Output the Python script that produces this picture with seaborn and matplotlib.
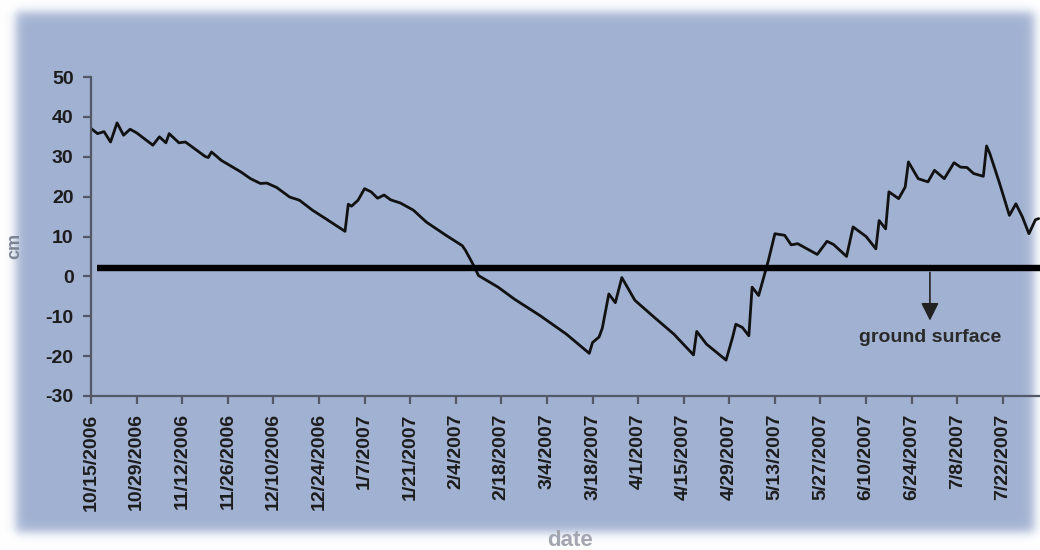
import numpy as np
import pandas as pd
import matplotlib
matplotlib.use("Agg")
import matplotlib.pyplot as plt
import seaborn as sns

# Water level relative to the reference datum (cm), by day since the start date
start_date = "2006-10-15"
day_offset = [0, 2, 4, 6, 8, 10, 12, 14, 19, 21, 23, 24, 27, 29, 31, 35, 36, 37, 40,
              46, 49, 52, 54, 57, 61, 64, 68, 72, 78, 79, 80, 82, 84, 86, 88, 90, 92,
              95, 99, 103, 109, 114, 115, 117, 119, 125, 130, 138, 146, 153, 154, 156,
              157, 159, 161, 163, 167, 173, 179, 185, 186, 189, 195, 197, 198, 200,
              202, 203, 205, 206, 208, 210, 213, 215, 217, 223, 226, 228, 232, 234,
              238, 241, 242, 244, 245, 248, 250, 251, 254, 257, 259, 262, 265, 267,
              269, 271, 274, 275, 276, 279, 282, 284, 286, 288, 290, 291]
water_level_cm = [37.1, 35.8, 36.3, 33.7, 38.5, 35.4, 36.9, 36.0, 32.9, 35.0, 33.5, 35.8,
                  33.5, 33.7, 32.5, 30.1, 29.8, 31.2, 29.1, 26.2, 24.5, 23.3, 23.4, 22.3,
                  19.9, 19.1, 16.6, 14.5, 11.3, 18.1, 17.6, 19.1, 22.0, 21.2, 19.6, 20.4,
                  19.2, 18.4, 16.6, 13.6, 10.3, 7.7, 6.5, 3.5, 0.2, -2.7, -5.7, -9.9,
                  -14.5, -19.3, -16.6, -15.2, -13.0, -4.4, -6.6, -0.3, -6.0, -10.3, -14.5,
                  -19.7, -13.8, -17.0, -21.0, -15.3, -12.0, -12.8, -14.9, -2.7, -4.8, -1.9,
                  4.0, 10.7, 10.3, 7.9, 8.2, 5.5, 8.8, 8.0, 5.0, 12.4, 10.0, 6.9, 14.0,
                  11.9, 21.2, 19.5, 22.4, 28.7, 24.5, 23.7, 26.6, 24.5, 28.5, 27.4, 27.3,
                  25.8, 25.1, 32.7, 30.8, 23.3, 15.3, 18.2, 14.9, 10.7, 14.2, 14.5]
ground_surface_cm = 2.0

tick_labels = ["10/15/2006", "10/29/2006", "11/12/2006", "11/26/2006", "12/10/2006",
               "12/24/2006", "1/7/2007", "1/21/2007", "2/4/2007", "2/18/2007",
               "3/4/2007", "3/18/2007", "4/1/2007", "4/15/2007", "4/29/2007",
               "5/13/2007", "5/27/2007", "6/10/2007", "6/24/2007", "7/8/2007",
               "7/22/2007"]
y_ticks = [-30, -20, -10, 0, 10, 20, 30, 40, 50]

t0 = pd.Timestamp(start_date)
df = pd.DataFrame({
    "date": t0 + pd.to_timedelta(day_offset, unit="D"),
    "cm": water_level_cm,
})
tick_dates = pd.to_datetime(tick_labels, format="%m/%d/%Y")

sns.set_theme(style="ticks")
plt.rcParams["font.family"] = ["Liberation Sans", "DejaVu Sans"]

W, H, DPI = 1040, 550, 100
PANEL = np.array([161, 177, 209]) / 255.0
AXIS = "#525866"

fig = plt.figure(figsize=(W / DPI, H / DPI), dpi=DPI, facecolor="white")

# Soft-edged panel behind the chart
def edge_profile(n, lo, hi, s):
    x = np.arange(n) + 0.5
    return 1.0 / (1.0 + np.exp(-(x - lo) / s)) / (1.0 + np.exp((x - hi) / s))

mask = np.outer(edge_profile(H, 12, 532, 3.0), edge_profile(W, 16, 1034, 3.0))
bg = np.ones((H, W, 3)) * (1 - mask[..., None]) + PANEL * mask[..., None]
fig.figimage(bg, xo=0, yo=0, origin="upper", zorder=-10)

ax = fig.add_axes([91 / W, 1 - 396 / H, 1 - 91 / W, (396 - 77) / H])
ax.patch.set_alpha(0)

sns.lineplot(data=df, x="date", y="cm", ax=ax, color="#111111", lw=2.0,
             estimator=None, sort=True)

x_end = t0 + pd.Timedelta(days=291.4)
ax.hlines(ground_surface_cm, t0 + pd.Timedelta(days=1.7), x_end,
          colors="#000000", lw=4.6, zorder=3)

ax.set_xlim(t0, x_end)
ax.set_ylim(-30, 50)
ax.set_xticks(tick_dates)
ax.set_xticklabels(tick_labels, rotation=90)
ax.set_yticks(y_ticks)
ax.set_yticklabels([str(v) for v in y_ticks])
ax.set_xlabel("")
ax.set_ylabel("")

for side in ("top", "right"):
    ax.spines[side].set_visible(False)
for side in ("left", "bottom"):
    ax.spines[side].set_color(AXIS)
    ax.spines[side].set_linewidth(1.6)
ax.tick_params(axis="both", colors=AXIS, width=1.6, length=5.5, pad=7,
               labelsize=14, labelcolor="#1c1c1c")
for lab in ax.get_xticklabels() + ax.get_yticklabels():
    lab.set_fontweight("bold")

# Ground surface marker
arrow_x = t0 + pd.Timedelta(days=257.6)
ax.annotate("", xy=(arrow_x, -11.1), xytext=(arrow_x, 1.0),
            arrowprops=dict(arrowstyle="-|>,head_length=0.9,head_width=0.45",
                            color="#222222", lw=1.2, shrinkA=0, shrinkB=0))
ax.text(arrow_x, -15.4, "ground surface", ha="center", va="center",
        fontsize=14, fontweight="bold", color="#2a2a2a")

fig.text(15 / W, 1 - 246 / H, "cm", rotation=90, ha="center", va="center",
         fontsize=13, fontweight="bold", color="#7d8494")
fig.text(570 / W, 1 - 541 / H, "date", ha="center", va="center",
         fontsize=16, fontweight="bold", color="#a3a6b0")

fig.savefig("out.png", dpi=DPI, facecolor="white")
